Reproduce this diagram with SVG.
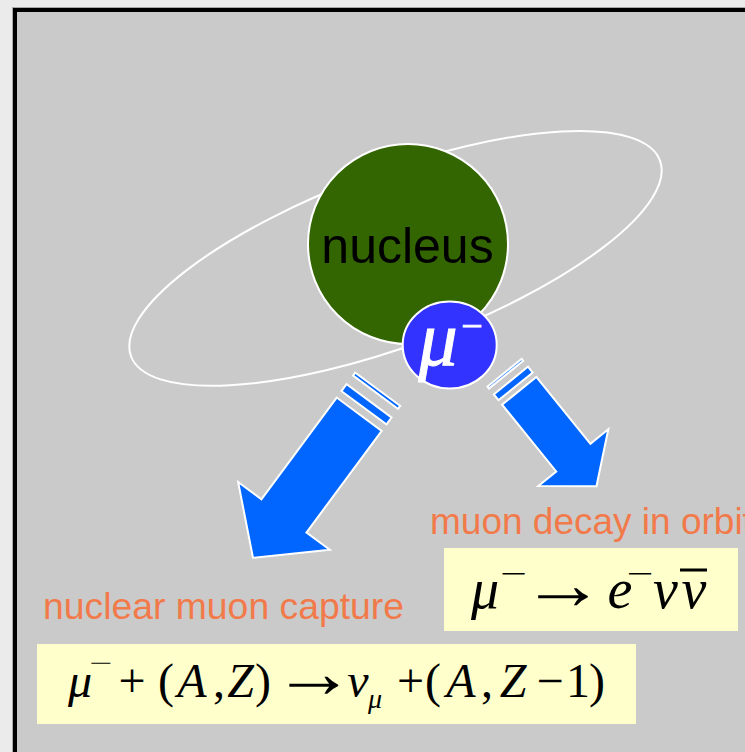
<svg xmlns="http://www.w3.org/2000/svg" width="745" height="752" viewBox="0 0 745 752">
<defs>
<style>
.lbl{font-family:"Liberation Sans",Arial,sans-serif;fill:#f27a4a;font-size:37px}
.m{font-family:"Liberation Serif","Times New Roman",serif;fill:#000;text-anchor:middle}
.i{font-style:italic}
.arr{fill:#0066ff;stroke:#fff;stroke-width:2;stroke-linejoin:miter}
.box{fill:#ffffcc}
</style>
</defs>
<rect x="0" y="0" width="745" height="752" fill="#ebebeb"/>
<rect x="12.5" y="7.5" width="750" height="760" fill="none" stroke="#a8a8a8" stroke-width="1"/>
<rect x="15" y="10" width="750" height="760" fill="#cacaca" stroke="#000" stroke-width="4"/>

<g id="orbit">
<ellipse cx="395.5" cy="258.4" rx="282" ry="87" transform="rotate(-20.3 395.5 258.4)" fill="none" stroke="#fff" stroke-width="2"/>
</g>
<g id="nucleus">
<circle cx="408" cy="244" r="100" fill="#336600" stroke="#fff" stroke-width="2"/>
<text x="407.5" y="263" font-family="'Liberation Sans',Arial,sans-serif" font-size="50" text-anchor="middle" fill="#000">nucleus</text>
</g>
<g id="muon">
<ellipse cx="449.7" cy="345" rx="47" ry="43.5" fill="#3333ff" stroke="#fff" stroke-width="2"/>
<text x="438" y="365" font-family="'Liberation Serif','Times New Roman',serif" font-style="italic" font-size="78" text-anchor="middle" fill="#fff" stroke="#fff" stroke-width="1">μ</text>
<text x="472" y="339" font-family="'Liberation Serif','Times New Roman',serif" font-size="38" text-anchor="middle" fill="#fff" stroke="#fff" stroke-width="0.8">−</text>
</g>

<g id="connectors">
<g id="arrow-capture" transform="translate(359.2 414.2) rotate(126.5)">
<path class="arr" d="M0,-28 L126.5,-28 L126.5,-57 L178.6,0 L126.5,57 L126.5,28 L0,28 Z"/>
<rect class="arr" x="-16.6" y="-28" width="8.6" height="56"/>
<rect class="arr" x="-31.1" y="-28" width="3.7" height="56"/>
</g>
<g id="arrow-decay" transform="translate(519.2 390.8) rotate(51)">
<path class="arr" d="M0,-22 L86,-22 L86,-45 L122.8,0 L86,45 L86,22 L0,22 Z"/>
<rect class="arr" x="-13.2" y="-22" width="7.5" height="44"/>
<rect class="arr" x="-23.3" y="-22" width="2.5" height="44"/>
</g>
</g>

<g id="label-decay">
<text class="lbl" x="430" y="534">muon decay in orbit</text>
</g>
<g id="label-capture">
<text class="lbl" x="43" y="619" textLength="361" lengthAdjust="spacingAndGlyphs">nuclear muon capture</text>
</g>

<g id="eq-decay">
<rect class="box" x="444" y="548" width="294" height="83"/>
<text class="m" font-size="56" y="608"><tspan class="i" x="485">μ</tspan><tspan class="i" x="620">e</tspan><tspan class="i" x="665.5">ν</tspan><tspan class="i" x="694">ν</tspan></text>
<text class="m" font-size="56" transform="translate(563 609) scale(1.5 1.3)">→</text>
<text class="m" font-size="28" transform="translate(514 583) scale(1.7 1)">−</text>
<text class="m" font-size="28" transform="translate(640.5 583) scale(1.7 1)">−</text>
<rect x="680" y="568.5" width="27" height="3" fill="#000"/>
</g>

<g id="eq-capture">
<rect class="box" x="37" y="644" width="599" height="80"/>
<text class="m" font-size="48" y="697"><tspan class="i" x="80">μ</tspan><tspan x="132">+</tspan><tspan x="166">(</tspan><tspan class="i" x="192">A</tspan><tspan x="219">,</tspan><tspan class="i" x="240.5">Z</tspan><tspan x="263">)</tspan><tspan class="i" x="358">ν</tspan><tspan x="410.5">+</tspan><tspan x="433">(</tspan><tspan class="i" x="461">A</tspan><tspan x="487">,</tspan><tspan class="i" x="513">Z</tspan><tspan x="550">−</tspan><tspan x="578">1</tspan><tspan x="597">)</tspan></text>
<text class="m" font-size="48" transform="translate(313.5 697) scale(1.72 1.5)">→</text>
<text class="m" font-size="24" transform="translate(101 671) scale(1.7 1)">−</text>
<text class="m i" font-size="28" y="708"><tspan x="375">μ</tspan></text>
</g>
</svg>
